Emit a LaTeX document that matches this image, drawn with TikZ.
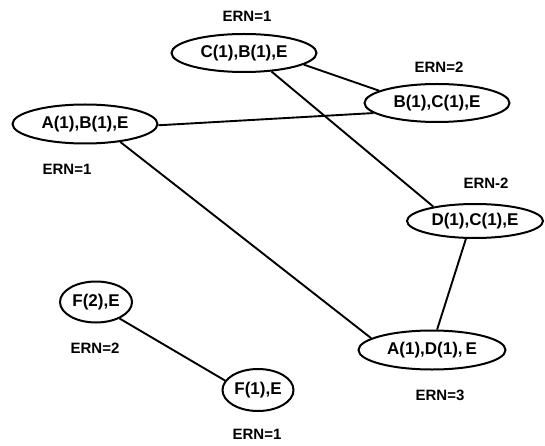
\documentclass[tikz,border=0pt]{standalone}
\usepackage{fontspec}
\setmainfont{Liberation Sans}
\usetikzlibrary{shapes.geometric}
\tikzset{
  rec/.style={ellipse, draw, line width=2pt, inner sep=0pt, font=\fontsize{17}{19}\selectfont\bfseries},
  ern/.style={font=\fontsize{15}{17}\selectfont\bfseries},
  link/.style={line width=1.9pt}
}
\begin{document}
\begin{tikzpicture}[x=1pt,y=-1pt]
\useasboundingbox (0,0) rectangle (545,446);
\node[rec, minimum width=145pt, minimum height=38pt] (CB) at (244,53) {C(1),B(1),E};
\node[rec, minimum width=145pt, minimum height=38pt] (BC) at (437,103) {B(1),C(1),E};
\node[rec, minimum width=145pt, minimum height=39pt] (AB) at (85,124) {A(1),B(1),E};
\node[rec, minimum width=136pt, minimum height=34pt] (DC) at (475,221) {D(1),C(1),E};
\node[rec, minimum width=147pt, minimum height=39pt] (AD) at (432,350) {A(1),D(1),\,E};
\node[rec, minimum width=72pt, minimum height=41pt] (F2) at (96,302) {F(2),E};
\node[rec, minimum width=71pt, minimum height=42pt] (F1) at (258,390) {F(1),E};
\node[ern] (l1) at (247,16) {ERN=1};
\node[ern] (l2) at (439,67) {ERN=2};
\node[ern] (l3) at (67,169) {ERN=1};
\node[ern] (l4) at (486,183) {ERN-2};
\node[ern] (l5) at (95,348) {ERN=2};
\node[ern] (l6) at (257,434) {ERN=1};
\node[ern] (l7) at (440,395) {ERN=3};
\draw[link] (CB.-11) -- (BC.168);
\draw[link] (AB.-1) -- (BC.189);
\draw[link] (AB.-27) -- (AD.169);
\draw[link] (CB.-34) -- (DC.161);
\draw[link] (DC.-117) -- (AD.76);
\draw[link] (F2.-35) -- (F1.164);
\end{tikzpicture}
\end{document}
